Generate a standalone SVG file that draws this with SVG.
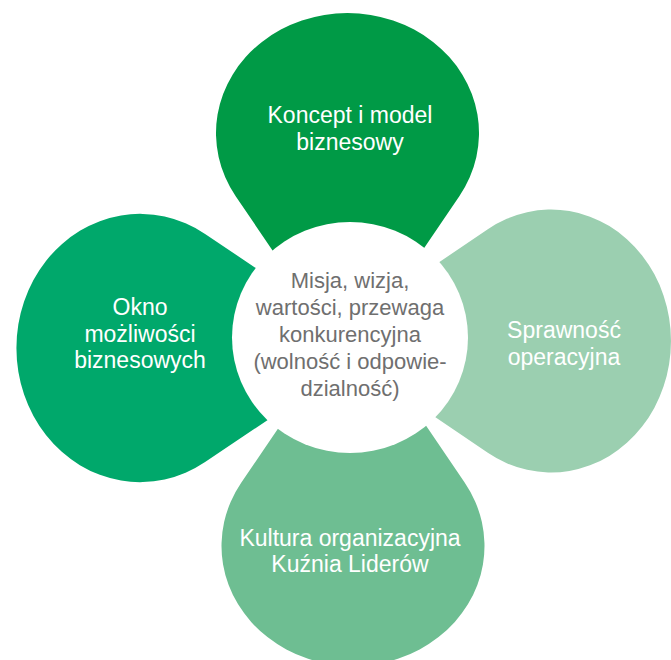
<svg xmlns="http://www.w3.org/2000/svg" width="671" height="660" viewBox="0 0 671 660">
<style>
.lbl{font-family:"Liberation Sans",Arial,sans-serif;font-size:23px;fill:#ffffff;text-anchor:middle}
.ctr{font-family:"Liberation Sans",Arial,sans-serif;font-size:22px;fill:#6f6f6f;text-anchor:middle}
</style>
<defs>
<path id="petal" d="M -111.8 63.2 A 131.5 120 0 1 1 111.8 63.2 L 0 228 Z"/>
</defs>
<rect width="671" height="660" fill="#ffffff"/>
<g id="connectors"></g>
<g id="node-top">
<use href="#petal" transform="translate(347.5,133)" fill="#009a46"/>
</g>
<g id="node-left">
<use href="#petal" transform="translate(140,348) rotate(-90) scale(1.02,1.03)" fill="#00a86b"/>
</g>
<g id="node-right">
<use href="#petal" transform="translate(551,341) rotate(90)" fill="#9bcfb0"/>
</g>
<g id="node-bottom">
<use href="#petal" transform="translate(353,546) rotate(180)" fill="#6ebe92"/>
</g>
<g id="node-center">
<ellipse cx="350" cy="337.5" rx="118" ry="115.5" fill="#ffffff"/>
<text class="ctr" x="350" y="288">Misja, wizja,</text>
<text class="ctr" x="350" y="315">wartości, przewaga</text>
<text class="ctr" x="350" y="342">konkurencyjna</text>
<text class="ctr" x="350" y="369">(wolność i odpowie-</text>
<text class="ctr" x="350" y="396">dzialność)</text>
</g>
<g id="labels">
<text class="lbl" x="350" y="123">Koncept i model</text>
<text class="lbl" x="350" y="150">biznesowy</text>
<text class="lbl" x="140" y="315">Okno</text>
<text class="lbl" x="140" y="342">możliwości</text>
<text class="lbl" x="140" y="368">biznesowych</text>
<text class="lbl" x="564" y="338">Sprawność</text>
<text class="lbl" x="564" y="365">operacyjna</text>
<text class="lbl" x="350" y="546">Kultura organizacyjna</text>
<text class="lbl" x="350" y="572">Kuźnia Liderów</text>
</g>
</svg>
